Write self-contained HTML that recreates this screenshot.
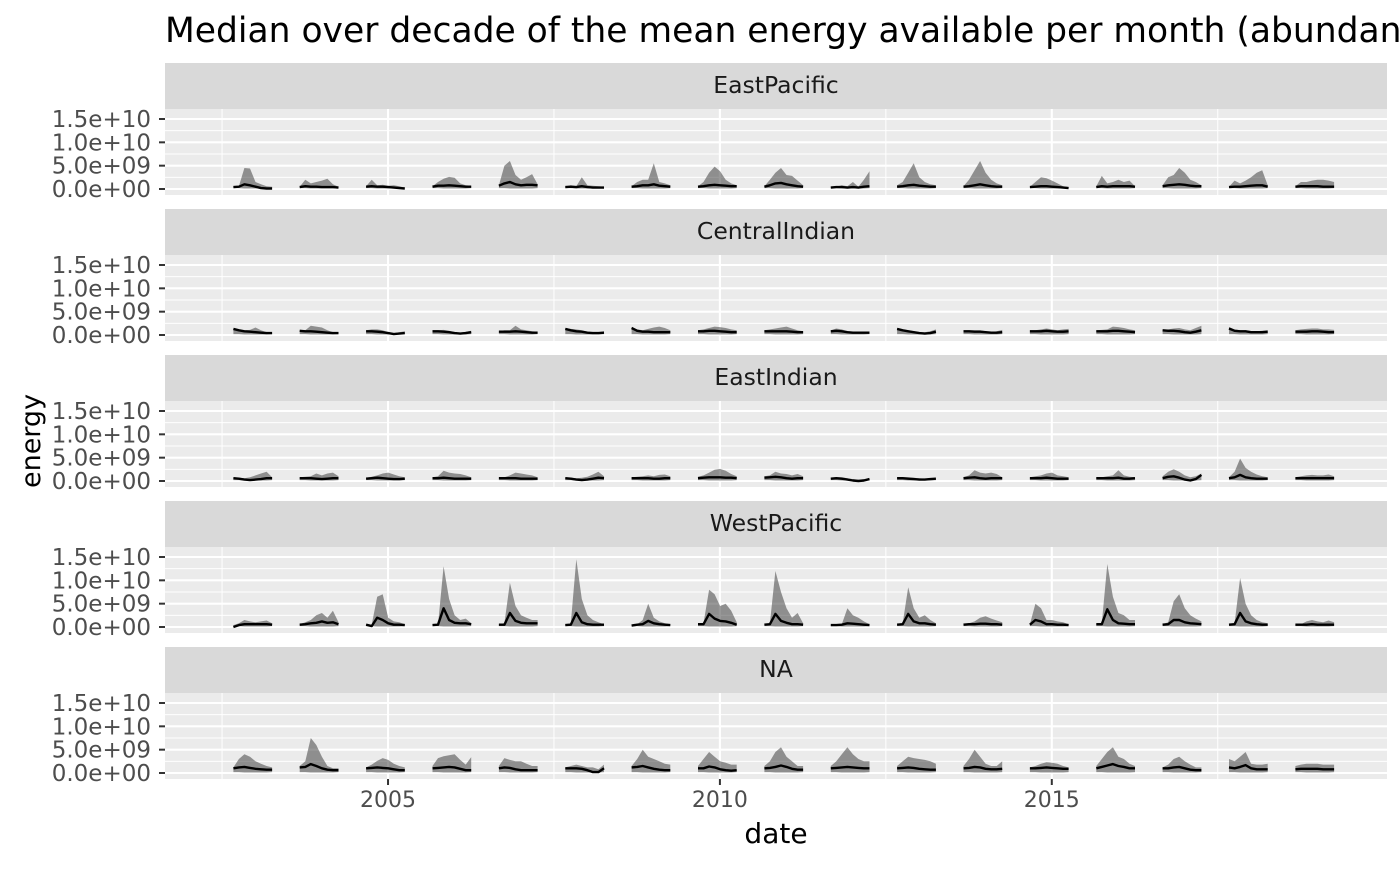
<!DOCTYPE html>
<html><head><meta charset="utf-8">
<style>
body{margin:0;background:#fff;overflow:hidden;}
svg text{font-family:"DejaVu Sans","Liberation Sans",sans-serif;}
</style></head>
<body>
<svg id="chart" width="1400" height="865" xmlns="http://www.w3.org/2000/svg">
<rect width="1400" height="865" fill="#fff"/>
<text x="165" y="42" font-size="34.5" fill="#000">Median over decade of the mean energy available per month (abundance)</text>
<text x="40" y="441" font-size="27" fill="#000" transform="rotate(-90 40 441)" text-anchor="middle">energy</text>
<text x="776" y="843" font-size="28" fill="#000" text-anchor="middle">date</text>
<g id="panels"></g>
</svg>
<script>
// ----- data (energy values in units of 1e9) -----
const facets = ["EastPacific","CentralIndian","EastIndian","WestPacific","NA"];
const segmentStartYears = [2002,2003,2004,2005,2006,2007,2008,2009,2010,2011,2012,2013,2014,2015,2016,2017,2018];
const yTickValues = [0,5,10,15];
const yTickLabels = ["0.0e+00","5.0e+09","1.0e+10","1.5e+10"];
const xTickValues = [2005,2010,2015];
const xTickLabels = ["2005","2010","2015"];

const upperEastPacific = [
[0.5,0.6,4.5,4.4,1.5,1.0,0.6,0.5],[0.5,2.0,1.2,1.5,1.8,2.2,1.0,0.5],[0.6,2.0,0.8,0.9,0.7,0.8,0.6,0.3],
[0.6,1.5,2.2,2.6,2.4,1.2,0.8,0.7],[0.8,5.0,6.0,3.0,2.0,2.5,3.2,1.0],[0.5,0.8,0.6,2.5,0.8,0.7,0.6,0.5],
[0.6,1.5,2.0,2.0,5.5,1.5,1.2,0.8],[0.6,1.5,3.5,4.8,3.8,2.0,1.2,0.8],[0.6,2.0,3.5,4.5,3.0,2.8,1.8,0.8],
[0.4,0.5,0.8,0.6,1.5,0.5,2.0,3.8],[0.8,1.5,3.5,5.5,2.5,1.5,1.0,0.8],[0.6,2.0,4.0,6.0,3.5,2.0,1.2,0.8],
[0.5,1.5,2.5,2.3,1.8,1.2,0.6,0.4],[0.6,2.8,1.2,1.5,2.0,1.5,1.8,0.6],[0.8,2.5,3.0,4.5,3.5,2.0,1.5,0.8],
[0.5,1.8,1.2,1.8,2.5,3.5,4.0,0.8],[0.6,1.5,1.5,1.8,2.0,2.0,1.8,1.5]];
const medianEastPacific = [
[0.4,0.5,1.0,0.8,0.5,0.2,0.1,0.1],[0.4,0.6,0.5,0.5,0.4,0.4,0.4,0.3],[0.5,0.6,0.5,0.5,0.4,0.3,0.2,0.1],
[0.5,0.7,0.7,0.8,0.7,0.6,0.5,0.5],[0.7,1.2,1.5,1.0,0.8,0.9,0.9,0.8],[0.4,0.5,0.4,0.6,0.4,0.3,0.3,0.3],
[0.5,0.6,0.8,0.8,1.0,0.7,0.6,0.5],[0.5,0.6,0.8,0.9,0.8,0.7,0.6,0.6],[0.5,0.8,1.2,1.3,1.0,0.8,0.6,0.5],
[0.3,0.4,0.4,0.3,0.4,0.3,0.5,0.6],[0.5,0.6,0.8,0.9,0.7,0.6,0.5,0.5],[0.5,0.6,0.8,1.0,0.8,0.6,0.5,0.5],
[0.4,0.5,0.6,0.6,0.5,0.4,0.3,0.2],[0.4,0.6,0.5,0.6,0.6,0.6,0.6,0.5],[0.6,0.8,0.9,1.0,0.9,0.7,0.6,0.6],
[0.4,0.5,0.5,0.6,0.7,0.8,0.8,0.5],[0.5,0.6,0.6,0.6,0.6,0.5,0.5,0.5]];
const upperCentralIndian = [
[1.3,1.2,1.0,1.1,1.6,1.0,0.6,0.5],[1.0,1.0,2.0,1.8,1.6,1.0,0.6,0.5],[1.0,1.2,1.2,1.0,0.6,0.4,0.6,0.8],
[1.0,1.0,1.1,0.9,0.6,0.5,0.7,0.9],[0.8,1.0,1.0,2.0,1.2,1.0,0.8,0.7],[1.5,1.3,1.2,1.0,0.7,0.6,0.6,0.8],
[1.7,1.2,1.0,1.3,1.6,1.8,1.5,1.0],[1.0,1.2,1.5,1.8,1.7,1.5,1.2,1.0],[1.0,1.2,1.4,1.6,1.8,1.4,1.0,0.8],
[1.0,1.4,1.2,0.8,0.6,0.6,0.7,0.7],[1.5,1.2,1.0,0.8,0.6,0.6,0.8,1.2],[1.0,1.0,1.0,1.0,0.8,0.6,0.8,1.1],
[1.0,1.0,1.2,1.4,1.2,1.0,1.2,1.3],[1.0,1.1,1.2,1.8,1.7,1.5,1.2,1.0],[1.2,1.2,1.4,1.5,1.2,1.0,1.5,2.0],
[1.7,1.2,1.0,1.0,0.8,0.8,0.9,1.0],[1.0,1.2,1.3,1.4,1.4,1.2,1.2,1.1]];
const medianCentralIndian = [
[1.3,1.0,0.8,0.7,0.6,0.5,0.4,0.4],[0.9,0.8,0.8,0.7,0.6,0.5,0.4,0.4],[0.8,0.8,0.7,0.6,0.4,0.2,0.3,0.4],
[0.8,0.8,0.7,0.6,0.4,0.3,0.4,0.6],[0.7,0.7,0.7,0.8,0.7,0.6,0.5,0.5],[1.3,1.0,0.8,0.7,0.5,0.4,0.4,0.5],
[1.5,0.9,0.7,0.7,0.6,0.6,0.6,0.6],[0.8,0.8,0.9,0.9,0.8,0.7,0.6,0.6],[0.8,0.8,0.8,0.8,0.8,0.7,0.6,0.6],
[0.8,0.9,0.8,0.6,0.5,0.5,0.5,0.5],[1.3,1.0,0.8,0.6,0.4,0.3,0.4,0.7],[0.8,0.8,0.7,0.7,0.6,0.5,0.5,0.6],
[0.8,0.8,0.8,0.9,0.8,0.7,0.7,0.8],[0.8,0.8,0.8,0.9,0.9,0.8,0.7,0.6],[1.0,0.9,0.9,0.8,0.6,0.5,0.7,1.0],
[1.4,0.9,0.8,0.8,0.6,0.6,0.6,0.7],[0.7,0.7,0.7,0.8,0.8,0.7,0.6,0.6]];
const upperEastIndian = [
[0.8,0.7,0.6,0.8,1.2,1.6,2.0,0.8],[0.8,0.9,1.0,1.6,1.2,1.6,1.8,1.0],[0.7,0.9,1.2,1.6,1.8,1.4,1.0,0.8],
[0.8,1.0,2.2,1.8,1.6,1.5,1.2,0.8],[0.8,0.8,1.2,1.8,1.6,1.4,1.2,0.8],[0.8,0.7,0.6,0.7,0.9,1.4,2.0,1.0],
[0.8,0.9,1.0,1.2,1.0,1.3,1.4,1.0],[0.9,1.2,1.8,2.4,2.6,2.2,1.5,1.0],[1.0,1.2,2.0,1.6,1.5,1.2,1.5,1.0],
[0.7,0.8,0.8,0.6,0.4,0.3,0.4,0.6],[0.8,0.8,0.8,0.7,0.6,0.5,0.6,0.7],[0.8,1.2,2.3,1.8,1.6,1.8,1.5,0.8],
[0.8,1.0,1.2,1.6,1.8,1.2,1.0,0.8],[0.8,0.8,1.0,1.2,2.3,1.2,0.9,0.8],[1.0,2.0,2.5,2.0,1.2,0.8,1.0,1.6],
[0.8,2.0,4.8,2.8,2.0,1.4,1.0,0.8],[0.8,1.0,1.2,1.3,1.2,1.2,1.4,1.0]];
const medianEastIndian = [
[0.6,0.5,0.3,0.2,0.3,0.4,0.6,0.6],[0.6,0.6,0.6,0.5,0.4,0.5,0.6,0.6],[0.5,0.6,0.7,0.6,0.5,0.4,0.4,0.5],
[0.6,0.6,0.7,0.6,0.5,0.5,0.5,0.5],[0.6,0.6,0.6,0.6,0.5,0.5,0.5,0.5],[0.6,0.5,0.3,0.2,0.3,0.5,0.7,0.6],
[0.6,0.6,0.6,0.6,0.5,0.5,0.6,0.6],[0.6,0.7,0.8,0.8,0.8,0.7,0.7,0.6],[0.7,0.8,0.9,0.8,0.6,0.5,0.6,0.6],
[0.5,0.6,0.5,0.3,0.1,0.0,0.1,0.4],[0.6,0.6,0.5,0.4,0.3,0.3,0.4,0.5],[0.6,0.7,0.8,0.6,0.5,0.6,0.6,0.6],
[0.6,0.6,0.6,0.7,0.6,0.5,0.5,0.5],[0.6,0.6,0.6,0.6,0.7,0.5,0.5,0.6],[0.6,0.9,1.0,0.7,0.3,0.1,0.4,1.3],
[0.6,0.8,1.3,0.8,0.6,0.5,0.5,0.5],[0.6,0.6,0.6,0.6,0.6,0.6,0.6,0.6]];
const upperWestPacific = [
[0.4,0.8,1.5,1.2,1.0,1.2,1.4,0.8],[0.6,1.0,1.5,2.5,3.0,2.0,3.5,1.0],[0.6,0.5,6.5,7.0,2.0,1.2,1.0,0.6],
[0.6,0.5,13.0,6.0,2.5,1.5,1.8,0.8],[0.6,0.8,9.5,4.5,2.5,2.0,1.5,1.5],[0.6,0.8,14.5,6.0,2.5,1.5,1.0,0.6],
[0.5,0.6,1.5,5.0,2.0,1.2,0.8,0.6],[0.6,0.8,8.0,7.0,4.5,5.0,3.5,1.0],[0.6,0.8,12.0,7.5,4.0,2.0,3.0,0.8],
[0.5,0.5,0.6,4.0,2.5,2.0,1.2,0.6],[0.6,0.8,8.5,4.0,2.0,2.5,1.5,0.8],[0.6,0.8,1.2,2.0,2.3,1.8,1.4,1.0],
[0.6,5.0,4.0,1.5,1.5,1.2,1.0,0.6],[0.6,0.8,13.5,6.5,3.0,2.5,1.5,1.5],[0.6,1.0,5.5,7.0,4.0,2.5,1.8,1.2],
[0.6,0.8,10.5,5.0,2.5,1.5,1.0,0.8],[0.6,0.6,1.2,1.5,1.2,1.0,1.4,1.0]];
const medianWestPacific = [
[0.0,0.4,0.6,0.6,0.6,0.6,0.6,0.5],[0.5,0.6,0.8,0.9,1.2,0.9,1.0,0.6],[0.5,0.2,2.0,1.5,0.8,0.5,0.5,0.4],
[0.4,0.5,4.0,1.5,0.9,0.8,0.8,0.6],[0.5,0.5,3.0,1.3,0.9,0.8,0.8,0.8],[0.4,0.5,3.0,1.0,0.6,0.5,0.5,0.5],
[0.3,0.5,0.6,1.3,0.8,0.6,0.5,0.4],[0.6,0.6,2.8,1.8,1.3,1.2,0.9,0.5],[0.5,0.6,2.8,1.3,0.9,0.6,0.6,0.5],
[0.4,0.4,0.5,0.8,0.7,0.6,0.5,0.4],[0.5,0.6,2.8,1.2,0.8,0.8,0.6,0.5],[0.5,0.6,0.6,0.7,0.7,0.6,0.6,0.5],
[0.5,1.5,1.2,0.6,0.6,0.5,0.5,0.4],[0.6,0.6,3.8,1.5,0.8,0.7,0.6,0.6],[0.5,0.6,1.5,1.5,1.0,0.8,0.7,0.6],
[0.5,0.6,3.0,1.2,0.8,0.6,0.5,0.5],[0.5,0.5,0.5,0.6,0.5,0.5,0.5,0.5]];
const upperNA = [
[1.2,3.0,4.0,3.5,2.5,2.0,1.5,1.2],[1.5,2.5,7.5,6.0,3.5,1.5,1.0,1.0],[1.2,1.8,2.6,3.2,2.8,2.0,1.5,1.2],
[1.5,3.2,3.6,3.8,4.0,2.8,1.8,3.4],[1.5,3.2,2.8,2.5,2.5,2.0,1.5,1.5],[1.2,1.5,1.8,1.5,1.2,1.2,0.8,1.8],
[1.5,3.0,5.0,3.5,3.0,2.5,2.0,1.8],[1.5,3.0,4.5,3.5,2.5,2.2,1.8,1.8],[1.5,2.5,4.5,5.5,3.5,2.5,1.5,1.5],
[1.5,2.5,4.0,5.5,4.0,3.0,2.5,2.5],[1.5,2.5,3.5,3.2,3.0,2.8,2.5,2.0],[1.5,3.0,5.0,3.5,2.0,1.5,1.5,2.5],
[1.2,1.5,2.0,2.3,2.2,2.0,1.5,1.2],[1.5,3.0,4.5,5.5,3.5,3.0,2.0,1.5],[1.2,1.8,3.0,3.5,2.5,1.8,1.2,1.2],
[3.0,2.5,3.5,4.5,2.0,1.8,1.8,2.0],[1.5,1.8,2.0,2.0,2.0,1.8,1.8,1.8]];
const medianNA = [
[1.0,1.2,1.3,1.1,0.9,0.8,0.7,0.7],[1.2,1.3,1.9,1.5,1.0,0.7,0.6,0.6],[1.0,1.1,1.2,1.1,1.0,0.8,0.6,0.6],
[1.0,1.1,1.2,1.3,1.2,0.9,0.6,0.6],[1.0,1.2,1.1,0.8,0.6,0.6,0.6,0.6],[1.0,1.0,1.0,0.9,0.6,0.2,0.2,1.0],
[1.2,1.3,1.5,1.2,0.9,0.7,0.6,0.6],[1.0,1.0,1.4,1.2,0.8,0.6,0.5,0.6],[1.0,1.1,1.3,1.6,1.3,0.9,0.7,0.7],
[1.0,1.1,1.2,1.3,1.2,1.1,1.0,1.0],[1.0,1.1,1.2,1.1,0.9,0.8,0.7,0.7],[1.0,1.1,1.3,1.2,0.9,0.8,0.8,0.9],
[1.0,1.0,1.1,1.2,1.1,1.0,0.9,0.9],[1.0,1.3,1.6,1.9,1.5,1.3,1.0,1.0],[1.0,1.0,1.2,1.3,1.0,0.7,0.6,0.6],
[1.2,1.0,1.3,1.7,1.0,0.8,0.8,0.8],[0.8,0.9,0.9,0.9,0.9,0.8,0.8,0.8]];
const lowerEnvelope = [0.2,0.2,0.1,0.1,0.1,0.1,0.1,0.2];

const upperByFacet = [upperEastPacific,upperCentralIndian,upperEastIndian,upperWestPacific,upperNA];
const medianByFacet = [medianEastPacific,medianCentralIndian,medianEastIndian,medianWestPacific,medianNA];

// ----- layout -----
const NS="http://www.w3.org/2000/svg";
const PX0=165, PX1=1387, STRIP_H=46, PANEL_H=86, FACET_STEP=146, FIRST_TOP=63;
const X_MIN=2001.64, X_MAX=2020.05;
const xScale = t => PX0 + (t-X_MIN)/(X_MAX-X_MIN)*(PX1-PX0);
const yScale = (v,top) => top + 80 - v*70/15;
const root=document.getElementById('panels');
function mk(tag,attrs,parent){const e=document.createElementNS(NS,tag);for(const k in attrs)e.setAttribute(k,attrs[k]);(parent||root).appendChild(e);return e;}

facets.forEach((name,fi)=>{
  const sTop=FIRST_TOP+fi*FACET_STEP, pTop=sTop+STRIP_H;
  const g=mk('g',{});
  
  
  const strip=mk('rect',{x:PX0,y:sTop,width:PX1-PX0,height:STRIP_H,fill:'#D9D9D9'},g);
  
  
  const st=mk('text',{x:(PX0+PX1)/2,y:sTop+30,'font-size':'23.5','text-anchor':'middle',fill:'#1A1A1A'},g);
  st.textContent=name;
  
  
  const bg=mk('rect',{x:PX0,y:pTop,width:PX1-PX0,height:PANEL_H,fill:'#EBEBEB'},g);
  
  
  [2.5,7.5,12.5].forEach(v=>mk('line',{x1:PX0,x2:PX1,y1:yScale(v,pTop),y2:yScale(v,pTop),stroke:'#fff','stroke-width':1},g));
  [2002.5,2007.5,2012.5,2017.5].forEach(v=>mk('line',{x1:xScale(v),x2:xScale(v),y1:pTop,y2:pTop+PANEL_H,stroke:'#fff','stroke-width':1},g));
  yTickValues.forEach((v,i)=>{
    const y=yScale(v,pTop);
    mk('line',{x1:PX0,x2:PX1,y1:y,y2:y,stroke:'#fff','stroke-width':2.1},g);
    mk('line',{x1:PX0-6,x2:PX0,y1:y,y2:y,stroke:'#333','stroke-width':2},g);
    const t=mk('text',{x:PX0-14,y:y+8,'font-size':'23','text-anchor':'end',fill:'#4D4D4D'},g);
    t.textContent=yTickLabels[i];
    
    
  });
  xTickValues.forEach(v=>mk('line',{x1:xScale(v),x2:xScale(v),y1:pTop,y2:pTop+PANEL_H,stroke:'#fff','stroke-width':2.1},g));
  segmentStartYears.forEach((yr,si)=>{
    const up=upperByFacet[fi][si], md=medianByFacet[fi][si];
    const xs=up.map((_,k)=>xScale(yr+0.67+k/12));
    let d='M'+xs.map((x,k)=>x.toFixed(1)+','+yScale(up[k],pTop).toFixed(1)).join('L');
    for(let k=up.length-1;k>=0;k--) d+='L'+xs[k].toFixed(1)+','+yScale(lowerEnvelope[k],pTop).toFixed(1);
    const rib=mk('path',{d:d+'Z',fill:'rgba(50,50,50,0.5)'},g);
    
    
    const ln=mk('polyline',{points:md.map((v,k)=>xs[k].toFixed(1)+','+yScale(v,pTop).toFixed(1)).join(' '),fill:'none',stroke:'#000','stroke-width':2.4,'stroke-linejoin':'round'},g);
    
    
  });
  if(fi===facets.length-1){
    xTickValues.forEach((v,i)=>{
      const x=xScale(v);
      mk('line',{x1:x,x2:x,y1:pTop+PANEL_H,y2:pTop+PANEL_H+6,stroke:'#333','stroke-width':2},g);
      const t=mk('text',{x:x,y:pTop+PANEL_H+28,'font-size':'22','text-anchor':'middle',fill:'#4D4D4D'},g);
      t.textContent=xTickLabels[i];
      
      
    });
  }
});
</script>
</body></html>
